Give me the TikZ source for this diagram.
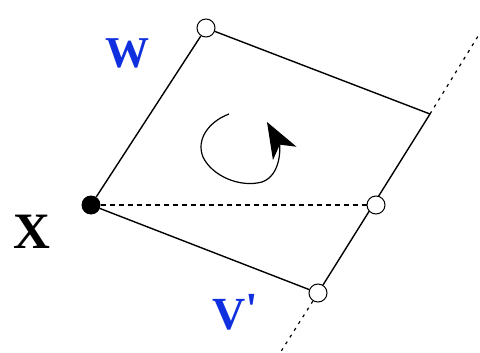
\documentclass[tikz,border=0pt]{standalone}
\usepackage{fontspec}
\setmainfont{Liberation Serif}
\usetikzlibrary{arrows.meta}
\definecolor{lblue}{RGB}{16,48,224}
\begin{document}
\begin{tikzpicture}[x=1pt,y=-1pt,
  edge/.style={line width=1.4pt},
  opendot/.style={circle,draw,line width=1pt,fill=white,minimum size=18pt,inner sep=0pt},
  filldot/.style={circle,fill=black,minimum size=19pt,inner sep=0pt},
  lbl/.style={inner sep=0pt,font=\bfseries}]
\useasboundingbox (0,0) rectangle (480,353);
\coordinate (C) at (430,114);
\coordinate (Ctop) at (480,33);
\coordinate (Vbot) at (280,353);
\node[filldot] (X) at (91,205) {};
\node[opendot] (W) at (206,28) {};
\node[opendot] (V) at (318,293) {};
% dashed X -- M
\draw[line width=1.2pt,dash pattern=on 5pt off 4pt] (X) -- (376,205) coordinate (Mc);
\draw[line width=1.2pt,dash pattern=on 3pt off 5pt] (C) -- (Ctop);
\draw[line width=1.2pt,dash pattern=on 3pt off 5pt] (V) -- (Vbot);
\draw[edge] (X) -- (W);
\draw[edge] (W) -- (C);
\draw[edge] (C) -- (V);
\draw[edge] (X) -- (V);
\node[opendot] (M) at (Mc) {};
% rotation arrow
\draw[line width=1.2pt,-{Stealth[length=36pt,width=27pt,inset=10pt]}]
  (229,114) .. controls (208,122) and (196,140) .. (203,157)
  .. controls (212,176) and (240,188) .. (262,182)
  .. controls (282,175) and (280,145) .. (267,122);
% labels
\node[lbl,text=lblue,font=\fontsize{44}{44}\selectfont\bfseries] (lw) at (127,53) {W};
\node[lbl,font=\fontsize{51}{51}\selectfont\bfseries] (lx) at (32,232) {X};
\node[lbl,text=lblue,font=\fontsize{46}{46}\selectfont\bfseries,anchor=base west] (lv) at (212,329) {V\raisebox{5pt}{\textquotesingle}};
\end{tikzpicture}
\end{document}
